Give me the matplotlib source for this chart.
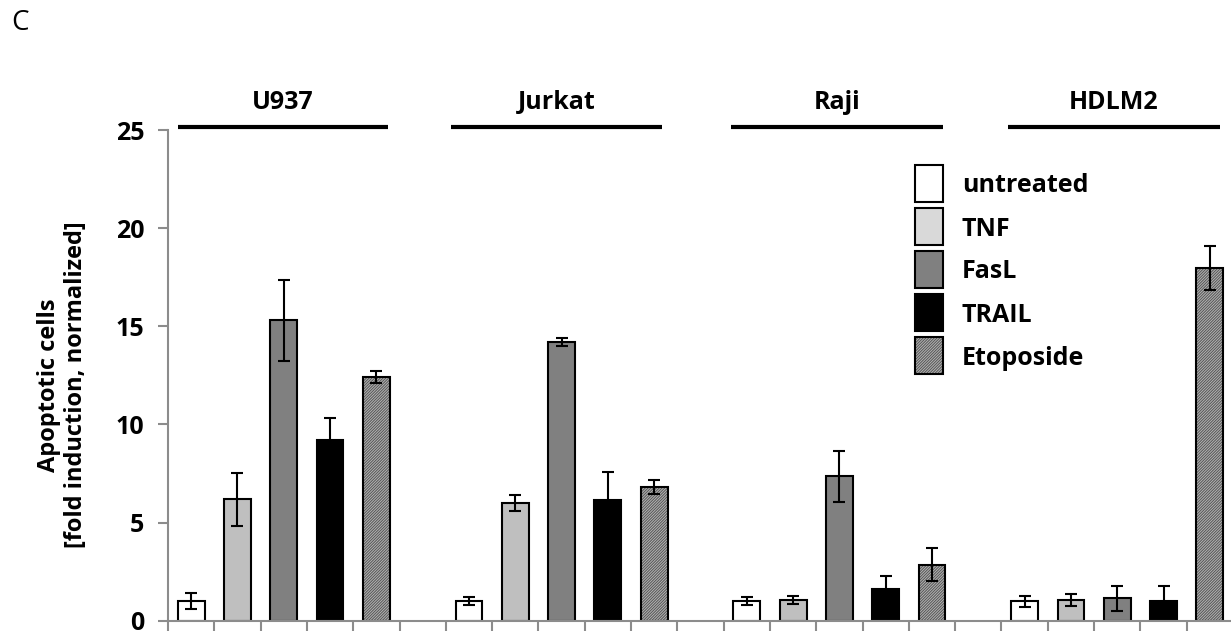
import numpy as np
import matplotlib
matplotlib.use('Agg')
import matplotlib.pyplot as plt
from matplotlib.patches import Rectangle

plt.rcParams['font.family'] = ['Open Sans', 'DejaVu Sans']
plt.rcParams['hatch.linewidth'] = 0.7

# Data
cell_lines = ['U937', 'Jurkat', 'Raji', 'HDLM2']
treatments = ['untreated', 'TNF', 'FasL', 'TRAIL', 'Etoposide']
means = {
    'U937':   [1.0, 6.2, 15.3, 9.2, 12.4],
    'Jurkat': [1.0, 6.0, 14.2, 6.15, 6.8],
    'Raji':   [1.0, 1.05, 7.35, 1.62, 2.86],
    'HDLM2':  [1.0, 1.05, 1.14, 1.0, 17.95],
}
errors = {
    'U937':   [0.4, 1.35, 2.05, 1.15, 0.3],
    'Jurkat': [0.22, 0.42, 0.2, 1.42, 0.35],
    'Raji':   [0.2, 0.2, 1.3, 0.67, 0.85],
    'HDLM2':  [0.28, 0.32, 0.63, 0.77, 1.12],
}
yticks = [0, 5, 10, 15, 20, 25]

# Styles
face = ['white', '#bfbfbf', '#808080', 'black', '#b4b4b4']
legend_face = ['white', '#d9d9d9', '#808080', 'black', '#b4b4b4']
hatches = [None, None, None, None, '////////////']
hatch_col = '#555555'
axis_grey = '#8c8c8c'

W, H = 1231, 634
fig = plt.figure(figsize=(W / 100, H / 100), dpi=100)
ax = fig.add_axes([168 / W, 13.3 / H, 1065 / W, 490.7 / H])

bar_w = 0.58
for g, line in enumerate(cell_lines):
    for t in range(len(treatments)):
        x = g * 6 + t
        if hatches[t]:
            # hatched fill first (hatch takes the edge colour), outline on top
            ax.bar(x, means[line][t], width=bar_w, color=face[t], edgecolor=hatch_col,
                   linewidth=0, hatch=hatches[t], zorder=2)
            ax.bar(x, means[line][t], width=bar_w, fill=False, edgecolor='black',
                   linewidth=1.5, zorder=2)
        else:
            ax.bar(x, means[line][t], width=bar_w, color=face[t], edgecolor='black',
                   linewidth=1.5, zorder=2)
        ax.errorbar(x, means[line][t], yerr=errors[line][t], fmt='none',
                    ecolor='black', elinewidth=1.5, capsize=4.5, capthick=1.5, zorder=3)

ax.set_xlim(-0.5, 22.5)
ax.set_ylim(0, 25)
ax.set_yticks(yticks)
ax.set_yticklabels([str(v) for v in yticks], fontsize=18, fontweight='bold')
ax.set_xticks(np.arange(-0.5, 22.6, 1.0))
ax.set_xticklabels([])
ax.tick_params(axis='both', colors=axis_grey, width=1.5, length=7, labelcolor='black')
ax.tick_params(axis='y', pad=10)
for s in ['top', 'right']:
    ax.spines[s].set_visible(False)
for s in ['left', 'bottom']:
    ax.spines[s].set_color(axis_grey)
    ax.spines[s].set_linewidth(1.5)

ax.set_ylabel('Apoptotic cells\n[fold induction, normalized]', fontsize=17,
              fontweight='bold', linespacing=1.15)
ax.yaxis.set_label_coords(-0.075, 0.48)

# group headers with lines
spans = [(-0.28, 4.25), (5.61, 10.17), (11.66, 16.24), (17.64, 22.22)]
for line, (a, b) in zip(cell_lines, spans):
    ax.plot([a, b], [25.17, 25.17], color='black', lw=3, clip_on=False,
            solid_capstyle='butt')
    ax.text((a + b) / 2, 25.75, line, ha='center', va='bottom', fontsize=18,
            fontweight='bold')

# legend drawn by hand (pixel layout of the original)
row_centres = [183, 226, 269, 312, 355.5]
for i, name in enumerate(treatments):
    yc = 1 - row_centres[i] / H
    kw = dict(transform=fig.transFigure, edgecolor='black', linewidth=1.5,
              facecolor=legend_face[i])
    if hatches[i]:
        fig.patches.append(Rectangle((915 / W, yc - 18.5 / H), 28 / W, 37 / H,
                                     facecolor=legend_face[i], edgecolor=hatch_col,
                                     linewidth=0, hatch=hatches[i],
                                     transform=fig.transFigure))
        kw['fill'] = False
        kw.pop('facecolor')
    fig.patches.append(Rectangle((915 / W, yc - 18.5 / H), 28 / W, 37 / H, **kw))
    fig.text(962 / W, yc, name, fontsize=18, fontweight='bold', va='center_baseline',
             ha='left')

fig.text(11 / W, 1 - 23 / H, 'C', fontsize=20, va='center', ha='left')

fig.savefig('out.png', dpi=100)
